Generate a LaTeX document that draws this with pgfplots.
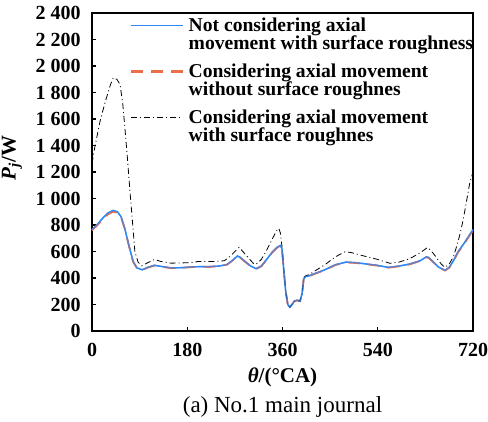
\documentclass[border=0pt]{standalone}
\usepackage{pgfplots}
\pgfplotsset{compat=1.18}
\usepackage{fontspec}
\setmainfont{Liberation Serif}

\definecolor{cblue}{RGB}{45,135,245}
\definecolor{cred}{RGB}{235,110,75}

\pgfplotstableread{
th P
0 765
10 805
20 850
30 890
40 910
48 900
55 862
62 772
70 640
78 522
85 476
95 462
105 480
118 496
130 488
150 476
170 478
190 484
205 486
220 485
240 490
255 502
265 532
275 566
280 556
290 522
300 490
310 470
320 490
330 540
340 592
350 632
356 645
359 620
362 480
366 300
370 200
374 180
378 200
382 224
388 232
393 225
397 280
400 390
403 410
410 416
420 432
440 462
460 500
480 520
500 515
520 505
540 495
560 480
580 490
600 505
620 530
632 560
636 555
645 522
655 482
667 458
675 480
683 530
692 600
702 655
711 710
720 765
}\notaxial

\pgfplotstableread{
th P
0 760
10 798
20 842
30 880
40 900
48 893
55 858
62 770
70 640
78 520
85 474
95 460
105 478
118 494
130 486
150 474
170 477
190 483
205 485
220 484
240 489
255 500
265 530
275 562
280 553
290 520
300 488
310 469
320 488
330 538
340 590
350 630
356 642
359 618
362 480
366 300
370 200
374 180
378 200
382 224
388 232
393 225
397 280
400 390
403 408
410 414
420 430
440 460
460 498
480 518
500 513
520 503
540 493
560 478
580 488
600 503
620 528
632 556
636 552
645 520
655 480
667 456
675 477
683 526
692 595
702 650
711 705
720 760
}\axialsmooth

\pgfplotstableread{
th P
0 1265
5 1380
15 1580
25 1730
35 1860
40 1910
47 1900
53 1860
58 1720
62 1540
67 1300
72 1040
77 800
81 600
87 520
94 492
105 515
118 540
130 525
150 512
180 515
195 520
200 525
230 525
250 530
260 560
270 600
278 632
285 600
295 555
305 510
310 503
320 540
330 610
340 690
350 765
353 775
356 740
359 640
362 480
366 300
370 200
374 180
378 200
382 225
388 232
393 225
397 280
400 400
403 415
410 425
420 450
440 500
460 560
478 598
490 592
510 570
540 540
563 511
580 520
600 545
620 590
634 630
640 610
650 560
660 505
667 480
675 505
683 560
690 650
696 740
702 850
708 985
714 1120
720 1200
}\axialrough

\begin{document}
\begin{tikzpicture}
  \begin{axis}[
    scale only axis,
    width=190.5pt, height=159pt,
    xmin=0, xmax=720, ymin=0, ymax=2400,
    xtick={0,180,360,540,720},
    ytick={0,200,...,2400},
    xtick pos=left, ytick pos=left,
    major tick length=2pt,
    tick style={black, line width=0.6pt},
    axis line style={line width=0.6pt},
    /pgf/number format/assume math mode=true,
    /pgf/number format/1000 sep={\ },
    ticklabel style={font=\fontsize{10}{10}\selectfont\bfseries, inner sep=0pt},
    xticklabel style={yshift=-6pt},
    yticklabel style={xshift=-5.5pt},
    xlabel={\textbf{\textit{θ}/(°CA)}},
    ylabel={\textbf{\textit{P}\textsubscript{\textit{j}}/W}},
    label style={font=\fontsize{10.5}{10.5}\selectfont, inner sep=0pt},
    xlabel style={at={(axis description cs:0.5,-0.147)}, anchor=center},
    ylabel style={at={(axis description cs:-0.21,0.545)}, anchor=center},
    clip=false,
    legend cell align=left,
    legend style={draw=none, fill=none, inner sep=0pt, outer sep=0pt,
      at={(axis description cs:0.1,1)}, anchor=north west, yshift=-2.5pt,
      row sep=5.6pt, column sep=2pt,
      nodes={inner sep=0pt, align=left, font=\fontsize{9.8}{9}\selectfont\bfseries}},
    legend image code/.code={
      \draw[#1] (0pt,4.9pt) -- (26pt,4.9pt);
    },
  ]
  \addplot[cblue, line width=0.7pt, legend image post style={line width=0.8pt}] table[x=th, y=P] {\notaxial};
  \addlegendentry{Not considering axial\\[-1pt]movement with surface roughness}
  \addplot[cred, line width=0.9pt, dash pattern=on 6pt off 4pt, legend image post style={line width=1.3pt}] table[x=th, y=P] {\axialsmooth};
  \addlegendentry{Considering axial movement\\[-1pt]without surface roughnes}
  \addplot[black, line width=0.4pt, dash pattern=on 3pt off 1.5pt on 0.5pt off 1.5pt, legend image post style={line width=0.6pt}] table[x=th, y=P] {\axialrough};
  \addlegendentry{Considering axial movement\\[-1pt]with surface roughnes}
  \addplot[cblue, line width=0.7pt, forget plot, opacity=0.7] table[x=th, y=P] {\notaxial};
  \node[font=\fontsize{11.5}{11.5}\selectfont, inner sep=0pt] at (axis description cs:0.5,-0.239) {(a) No.1 main journal};
  \coordinate (sw) at (rel axis cs:0,0);
  \coordinate (ne) at (rel axis cs:1,1);
  \end{axis}
  \path ([xshift=-46pt,yshift=-45pt]sw) rectangle ([xshift=7.5pt,yshift=6.5pt]ne);
\end{tikzpicture}
\end{document}
